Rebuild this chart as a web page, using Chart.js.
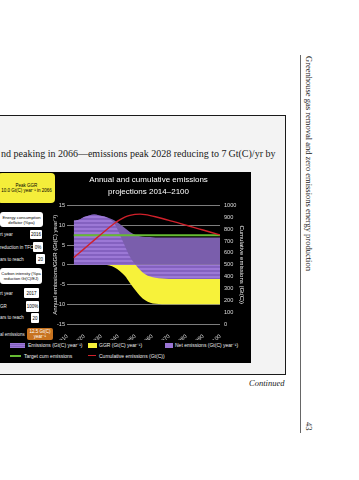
<!DOCTYPE html>
<html>
<head>
<meta charset="utf-8">
<script src="https://cdn.jsdelivr.net/npm/chart.js@4.4.0/dist/chart.umd.min.js"></script>
<style>
  html, body { margin: 0; padding: 0; background: #fff; }
  body { width: 359px; height: 480px; position: relative; overflow: hidden; font-family: 'Liberation Serif', 'Times New Roman', serif; color: #1a1a1a; }
  .abs { position: absolute; }
  #box { left: -4px; top: 115px; width: 290px; height: 260px; border: 1px solid #1a1a1a; background: #f3f3f3; box-sizing: border-box; }
  #panel { left: 0; top: 172px; width: 251px; height: 191px; background: #000; }
  #chartWrap { left: 49px; top: 172px; width: 202px; height: 168px; }
  .ui { font-family: 'Liberation Sans', Arial, sans-serif; font-size: 4.5px; line-height: 5px; white-space: nowrap; }
  .lbl { color: #eee; left: 0; }
  .btn { background: #fff; color: #000; border-radius: 3px; display: flex; align-items: center; justify-content: center; text-align: center; }
  .inp { background: #fff; color: #000; border-radius: 1px; display: flex; align-items: center; justify-content: center; }
  .leg { font-family: 'Liberation Sans', Arial, sans-serif; font-size: 5px; line-height: 6px; color: #eee; white-space: nowrap; }
</style>
</head>
<body>
<div id="box" class="abs"></div>
<div class="abs" style="left:1px; top:147px; font-size:10px; line-height:14px; white-space:nowrap;">nd peaking in 2066—emissions peak 2028 reducing to 7&#8201;Gt(C)/yr by</div>

<div id="panel" class="abs"></div>

<!-- left control panel -->
<div class="abs ui btn" style="left:-2px; top:173px; width:57px; height:30px; background:#f5ee3a; border-radius:4px;">Peak GGR<br>10.0 Gt(C) year⁻¹ in 2066</div>

<div class="abs ui btn" style="left:0; top:212px; width:43px; height:15px; font-size:4.2px;">Energy consumption<br>deflator (%pa)</div>
<div class="abs ui lbl" style="top:232px;">rt year</div>
<div class="abs ui inp" style="left:30px; top:230px; width:12px; height:9px;">2016</div>
<div class="abs ui lbl" style="top:245px;">reduction in TFC</div>
<div class="abs ui inp" style="left:33px; top:242px; width:10px; height:10px;">0%</div>
<div class="abs ui lbl" style="top:257px;">ars to reach</div>
<div class="abs ui inp" style="left:36px; top:254px; width:9px; height:10px;">20</div>

<div class="abs ui btn" style="left:0; top:268px; width:42px; height:16px; font-size:4px;">Carbon intensity (%pa<br>reduction Gt(C)/EJ)</div>
<div class="abs ui lbl" style="top:291px;">rt year</div>
<div class="abs ui inp" style="left:24px; top:288px; width:15px; height:10px;">2017</div>
<div class="abs ui lbl" style="top:304px;">GR</div>
<div class="abs ui inp" style="left:26px; top:301px; width:13px; height:11px;">100%</div>
<div class="abs ui lbl" style="top:315px;">ars to reach</div>
<div class="abs ui inp" style="left:31px; top:313px; width:8px; height:10px;">20</div>
<div class="abs ui lbl" style="top:332px;">al emissions</div>
<div class="abs ui btn" style="left:27px; top:328px; width:26px; height:12px; background:#c8731f; color:#fff; border-radius:2px;">12.5 Gt(C)<br>year⁻¹</div>

<div id="chartWrap" class="abs"><canvas id="emissionsChart" width="202" height="168"></canvas></div>

<!-- legend -->
<div class="abs" style="left:10px; top:343px; width:15px; height:5px; background:repeating-linear-gradient(#9c78d6 0 1px, #8461c0 1px 2px);"></div>
<div class="abs leg" style="left:28px; top:342px;">Emissions (Gt(C) year⁻¹)</div>
<div class="abs" style="left:88px; top:343px; width:9px; height:5px; background:#f7f23a;"></div>
<div class="abs leg" style="left:99px; top:342px;">GGR (Gt(C) year⁻¹)</div>
<div class="abs" style="left:165px; top:343px; width:8px; height:5px; background:#9a74d4;"></div>
<div class="abs leg" style="left:175px; top:342px;">Net emissions (Gt(C) year⁻¹)</div>
<div class="abs" style="left:10px; top:355px; width:11px; height:1.5px; background:#66bb33;"></div>
<div class="abs leg" style="left:24px; top:353px;">Target cum emissions</div>
<div class="abs" style="left:88px; top:355px; width:8px; height:1px; background:#d0202a;"></div>
<div class="abs leg" style="left:99px; top:353px;">Cumulative emissions (Gt(C))</div>

<div class="abs" style="left:249px; top:378px; font-size:8.5px; font-style:italic; color:#222; white-space:nowrap;">Continued</div>

<!-- running head -->
<div class="abs" style="left:300px; top:55px; width:1px; height:378px; background:#666;"></div>
<div class="abs" style="left:304px; top:56px; writing-mode:vertical-rl; font-size:8.5px; line-height:10px; white-space:nowrap;">Greenhouse gas removal and zero emissions energy production</div>
<div class="abs" style="left:304px; top:422px; writing-mode:vertical-rl; font-size:8.5px; line-height:10px;">43</div>

<script>
// values
const years = [2014, 2017, 2020, 2023, 2026, 2029, 2032, 2035, 2038, 2041, 2044, 2047, 2050,
               2053, 2056, 2059, 2062, 2066, 2070, 2075, 2080, 2085, 2090, 2095, 2100];
const emissions = [11.2, 11.4, 12.1, 12.5, 12.7, 12.5, 12.2, 11.8, 11.2, 10.3, 9.3, 8.3, 7.6,
                   7.2, 7.0, 7.0, 6.9, 6.9, 6.9, 6.9, 6.9, 6.9, 6.9, 6.9, 6.9];
const ggr = [0, 0, 0, 0, 0, 0, 0, -0.2, -0.7, -1.6, -2.8, -4.6, -6.3,
             -7.9, -9.0, -9.6, -9.9, -10.0, -10.0, -10.0, -10.0, -10.0, -10.0, -10.0, -10.0];
const netEmissions = [11.2, 11.4, 12.1, 12.5, 12.7, 12.5, 12.2, 11.6, 10.4, 7.8, 4.8, 2.0, 0.2,
                      -1.3, -2.4, -3.0, -3.3, -3.5, -3.6, -3.6, -3.6, -3.6, -3.6, -3.6, -3.6];
const cumulative = [560, 597, 634, 671, 708, 745, 781, 816, 850, 879, 902, 917, 925,
                    927, 923, 915, 905, 890, 874, 855, 834, 813, 793, 772, 752];
const targetCum = [750, 750];
const targetYears = [2014, 2100];

const xTicks = { min: 2010, max: 2100, step: 10 };
const yTicks = { min: -15, max: 15, step: 5 };
const y1Ticks = { min: 0, max: 1000, step: 100 };

const toPoints = (xs, ys) => xs.map((x, i) => ({ x: x, y: ys[i] }));

function stripePattern() {
    const c = document.createElement('canvas');
    c.width = 4; c.height = 4;
    const g = c.getContext('2d');
    g.fillStyle = '#9c78d6';
    g.fillRect(0, 0, 4, 2);
    g.fillStyle = '#8461c0';
    g.fillRect(0, 2, 4, 2);
    return g.createPattern(c, 'repeat');
}

const tickFont = { family: "'Liberation Sans', Arial, sans-serif", size: 5.6 };
const titleFont = { family: "'Liberation Sans', Arial, sans-serif", size: 6 };
const area = {
    borderColor: 'rgba(0,0,0,0)',
    borderWidth: 0,
    pointRadius: 0,
    cubicInterpolationMode: 'monotone',
    fill: 'origin',
    yAxisID: 'y'
};

new Chart(document.getElementById('emissionsChart').getContext('2d'), {
    type: 'line',
    data: {
        datasets: [
            { label: 'Cumulative emissions (Gt(C))', data: toPoints(years, cumulative), yAxisID: 'y1',
              borderColor: '#d0202a', borderWidth: 1.4, pointRadius: 0, fill: false,
              cubicInterpolationMode: 'monotone', order: 0 },
            { label: 'Target cum emissions', data: toPoints(targetYears, targetCum), yAxisID: 'y1',
              borderColor: '#66bb33', borderWidth: 2, pointRadius: 0, fill: false, order: 1 },
            { ...area, label: 'Net emissions (Gt(C) year⁻¹)', data: toPoints(years, netEmissions),
              backgroundColor: stripePattern(), order: 2 },
            { ...area, label: 'Emissions (Gt(C) year⁻¹)', data: toPoints(years, emissions),
              backgroundColor: '#7a5eac', order: 3 },
            { ...area, label: 'GGR (Gt(C) year⁻¹)', data: toPoints(years, ggr),
              backgroundColor: '#f7f23a', order: 4 }
        ]
    },
    options: {
        responsive: false,
        animation: false,
        devicePixelRatio: 1,
        layout: { padding: { left: 2, right: 5, top: 0, bottom: 0 } },
        plugins: {
            legend: { display: false },
            tooltip: { enabled: false },
            title: {
                display: true,
                text: ['Annual and cumulative emissions', 'projections 2014–2100'],
                color: '#fff',
                font: { family: "'Liberation Sans', Arial, sans-serif", size: 8, weight: 'normal', lineHeight: 1.5 },
                padding: { top: 2, bottom: 7.5 }
            }
        },
        scales: {
            x: {
                type: 'linear',
                min: xTicks.min,
                max: xTicks.max,
                afterFit: (s) => { s.height = 16; },
                ticks: { stepSize: xTicks.step, color: '#ddd', font: tickFont, minRotation: 45, maxRotation: 45,
                         padding: 1, callback: (v) => String(v) },
                grid: { display: false },
                border: { display: false }
            },
            y: {
                position: 'left',
                min: yTicks.min,
                max: yTicks.max,
                afterFit: (s) => { s.width = 16; },
                ticks: { stepSize: yTicks.step, color: '#ddd', font: tickFont, padding: 2 },
                grid: { color: '#7d7d7d', lineWidth: 1, drawTicks: false },
                border: { display: false },
                title: { display: true, text: 'Annual emissions/GGR (Gt(C) year⁻¹)', color: '#eee',
                         font: titleFont, padding: { top: 1, bottom: 0 } }
            },
            y1: {
                position: 'right',
                min: y1Ticks.min,
                max: y1Ticks.max,
                afterFit: (s) => { s.width = 26; },
                ticks: { stepSize: y1Ticks.step, color: '#ddd', font: tickFont, padding: 4,
                         callback: (v) => String(v) },
                grid: { drawOnChartArea: false, drawTicks: false },
                border: { display: false },
                title: { display: true, text: 'Cumulative emissions (Gt(C))', color: '#eee',
                         font: titleFont, padding: { top: 1, bottom: 0 } }
            }
        }
    }
});
</script>
</body>
</html>
